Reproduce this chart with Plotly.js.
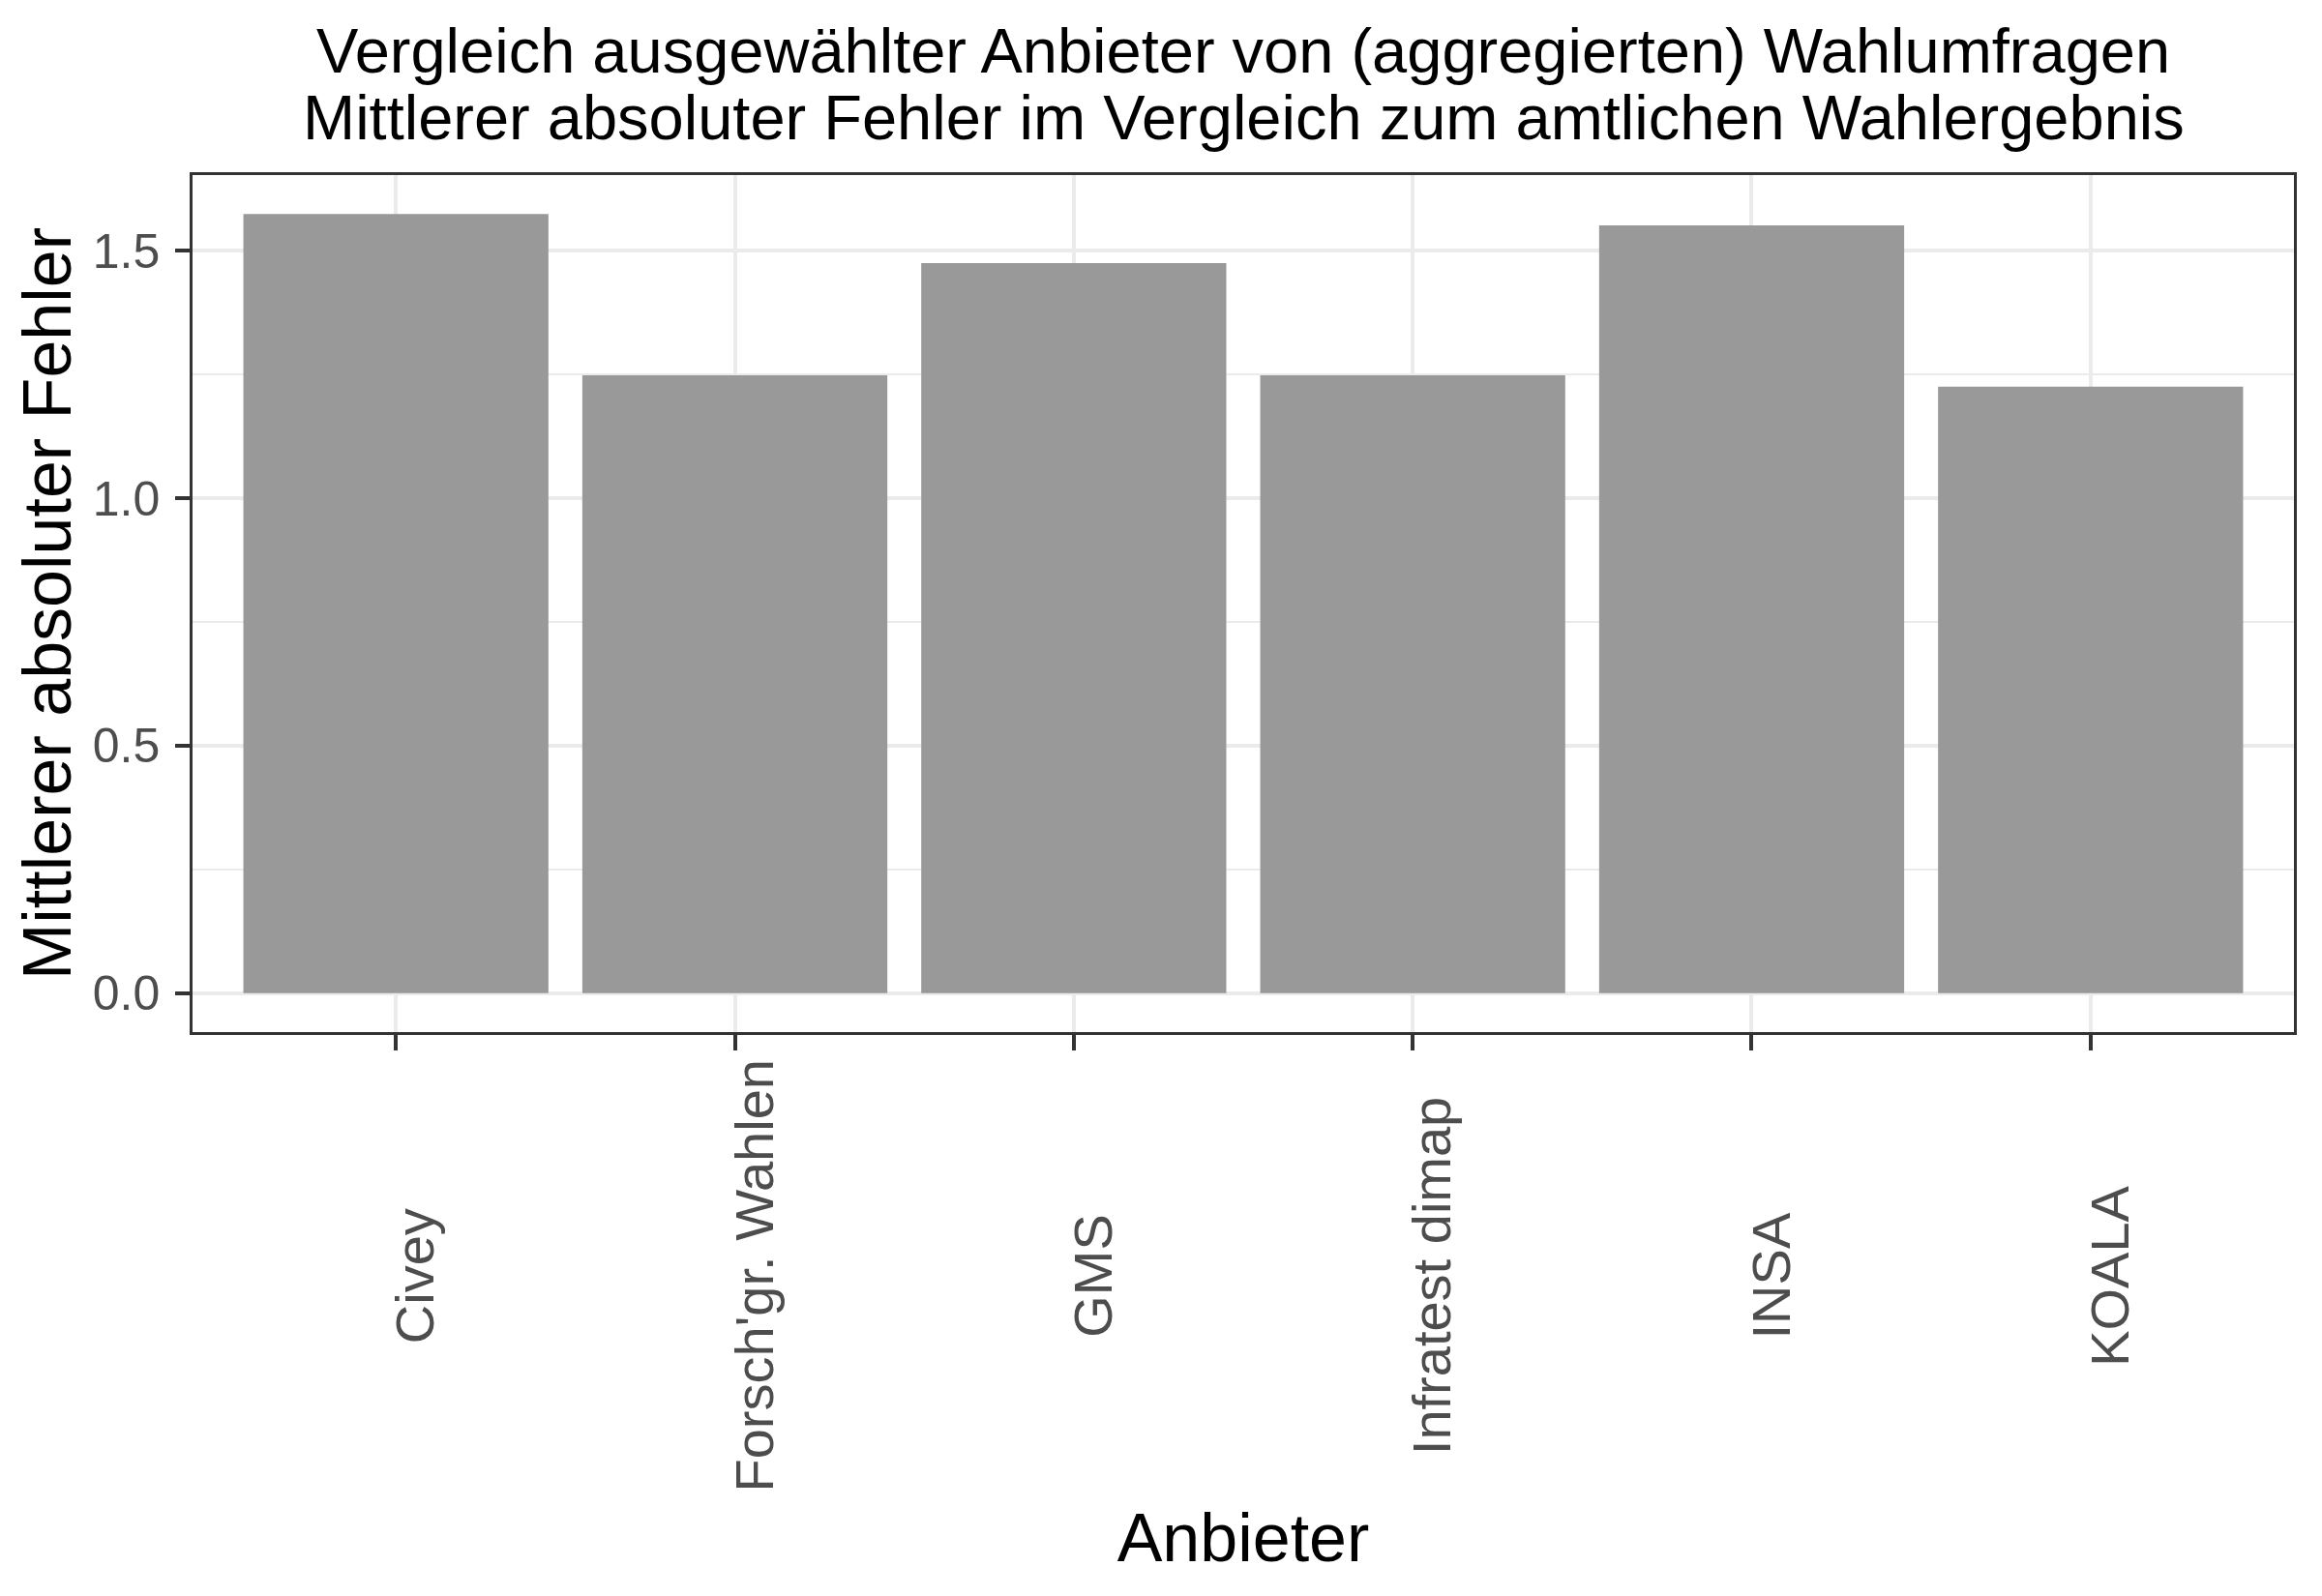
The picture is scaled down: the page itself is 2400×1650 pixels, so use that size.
<!DOCTYPE html>
<html>
<head>
<meta charset="utf-8">
<script src="https://cdn.plot.ly/plotly-3.0.1.min.js"></script>
<style>
  body { margin: 0; background: #ffffff; }
  #chart { width: 2400px; height: 1650px; }
</style>
</head>
<body>
<div id="chart"></div>
<script>
// Anbieter und mittlerer absoluter Fehler
var anbieter = ["Civey", "Forsch'gr. Wahlen", "GMS", "Infratest dimap", "INSA", "KOALA"];
var fehler = [1.574, 1.248, 1.475, 1.248, 1.551, 1.225];

var yTicks = [0, 0.5, 1, 1.5];
var yTickText = ["0.0", "0.5", "1.0", "1.5"];
var yMinor = [0.25, 0.75, 1.25];

var titel = "Vergleich ausgewählter Anbieter von (aggregierten) Wahlumfragen";
var untertitel = "Mittlerer absoluter Fehler im Vergleich zum amtlichen Wahlergebnis";

var font = "Liberation Sans, Arial, Helvetica, sans-serif";

var bars = {
    x: anbieter,
    y: fehler,
    type: "bar",
    width: 0.9,
    marker: { color: "#999999" },
    hoverinfo: "x+y"
};

// rotated tick labels, centred like in ggplot
var annos = anbieter.map(function (a) {
    return {
        x: a,
        xref: "x",
        y: -0.2844,
        yref: "paper",
        text: a,
        textangle: -90,
        showarrow: false,
        xanchor: "center",
        yanchor: "middle",
        xshift: 20,
        font: { family: font, size: 56, color: "#4D4D4D" }
    };
});

// second title line (tighter line spacing than <br> gives)
annos.push({
    x: 0.5,
    xref: "paper",
    y: 1.0666,
    yref: "paper",
    text: untertitel,
    showarrow: false,
    xanchor: "center",
    yanchor: "middle",
    font: { family: font, size: 65, color: "#000000" }
});

Plotly.newPlot("chart", [bars], {
    width: 2400,
    height: 1650,
    showlegend: false,
    paper_bgcolor: "#ffffff",
    plot_bgcolor: "#ffffff",
    margin: { l: 199, r: 29, t: 181, b: 583, pad: 0 },
    font: { family: font, color: "#000000" },
    title: {
        text: titel,
        font: { family: font, size: 65, color: "#000000" },
        x: 0.5,
        xref: "paper",
        xanchor: "center",
        y: 1 - 52 / 1650,
        yref: "container",
        yanchor: "middle"
    },
    xaxis: {
        type: "category",
        range: [-0.6, 5.6],
        showgrid: true,
        gridcolor: "#EBEBEB",
        gridwidth: 4,
        zeroline: false,
        showline: true,
        mirror: true,
        linecolor: "#333333",
        linewidth: 2.5,
        ticks: "outside",
        ticklen: 16,
        tickwidth: 4,
        tickcolor: "#333333",
        showticklabels: false,
        title: {
            text: "Anbieter",
            font: { family: font, size: 70, color: "#000000" },
            standoff: 481
        }
    },
    yaxis: {
        range: [-0.0787, 1.6527],
        tickvals: yTicks,
        ticktext: yTickText,
        showgrid: true,
        gridcolor: "#EBEBEB",
        gridwidth: 4,
        minor: {
            tickvals: yMinor,
            showgrid: true,
            gridcolor: "#EBEBEB",
            gridwidth: 2,
            ticks: ""
        },
        zeroline: false,
        showline: true,
        mirror: true,
        linecolor: "#333333",
        linewidth: 2.5,
        ticks: "outside",
        ticklen: 15,
        tickwidth: 4,
        tickcolor: "#333333",
        ticklabelstandoff: 6,
        tickfont: { family: font, size: 50, color: "#4D4D4D" },
        title: {
            text: "Mittlerer absoluter Fehler",
            font: { family: font, size: 70, color: "#000000" },
            standoff: 0
        }
    },
    annotations: annos
}, { displayModeBar: false });
</script>
</body>
</html>
